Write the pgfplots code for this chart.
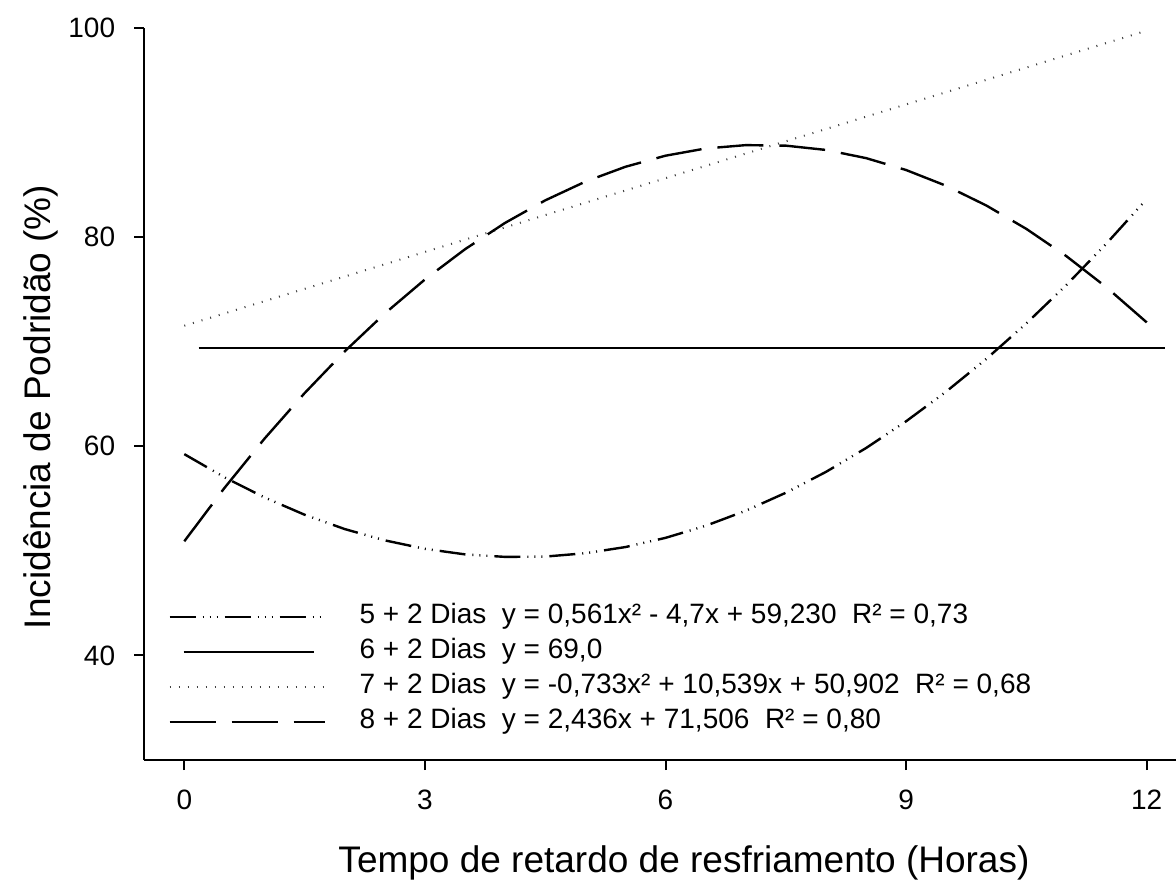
\documentclass[border=0pt]{standalone}
\usepackage{fontspec}
\setmainfont{Liberation Sans}
\usepackage{pgfplots}
\pgfplotsset{compat=1.18}

\pgfplotsset{
  dashdotdot/.style={black, line width=1.2pt,
    dash pattern=on 13pt off 3.5pt on 0.5pt off 3pt on 0.5pt off 3pt on 0.5pt off 3.5pt},
  plainline/.style={black, line width=1pt},
  dottedline/.style={black!75, line width=1pt, dash pattern=on 0.5pt off 4pt},
  longdash/.style={black, line width=1.2pt, dash pattern=on 23pt off 8pt},
  shortsample/.style={legend image code/.code={%
    \draw[##1] (7pt,0pt) -- (72pt,0pt);
    \path[draw=none] (0pt,0pt) -- (95pt,0pt);}},
}

\begin{document}
\begin{tikzpicture}
\useasboundingbox (-72.1pt,-59.5pt) rectangle (515.9pt,380pt);
\begin{axis}[
  at={(0pt,0pt)}, anchor=south west,
  scale only axis, width=517.3pt, height=366.25pt,
  xmin=-0.5, xmax=12.4, ymin=30, ymax=100,
  axis x line*=bottom, axis y line*=left,
  axis line style={line width=1pt, black},
  xtick={0,3,6,9,12}, ytick={40,60,80,100},
  minor tick num=0,
  tick align=outside, major tick length=5pt,
  tick style={line width=1pt, black},
  xticklabel style={font=\fontsize{14}{17}\selectfont, yshift=-6.5pt},
  yticklabel style={font=\fontsize{14}{17}\selectfont, xshift=-6pt},
  /pgf/number format/assume math mode=true,
  label style={font=\fontsize{18.5}{22}\selectfont},
  xlabel={Tempo de retardo de resfriamento (Horas)},
  ylabel={Incidência de Podridão (\%)},
  xlabel style={at={(axis description cs:0.5217,-0.1530)}, anchor=base},
  ylabel style={at={(axis description cs:-0.0909,0.482)}, anchor=base},
  legend cell align=left,
  legend style={at={(axis description cs:0.023,0.2198)}, anchor=north west,
    draw=none, fill=none, inner sep=0pt, row sep=0pt,
    font=\fontsize{14}{17}\selectfont,
    nodes={inner sep=0pt, text height=12pt, text depth=5.5pt}},
  legend image code/.code={%
    \draw[#1] (0pt,0pt) -- (77.5pt,0pt);
    \path[draw=none] (0pt,0pt) -- (95pt,0pt);},
]

% 5 + 2 dias
\addplot[dashdotdot] coordinates {
  (0,59.23) (0.5,57.02) (1,55.09) (1.5,53.44) (2,52.07) (2.5,50.99)
  (3,50.18) (3.5,49.65) (4,49.41) (4.5,49.44) (5,49.76) (5.5,50.35)
  (6,51.23) (6.5,52.38) (7,53.82) (7.5,55.54) (8,57.53) (8.5,59.81)
  (9,62.37) (9.5,65.21) (10,68.33) (10.5,71.73) (11,75.41) (11.5,79.37)
  (12,83.61)};
\addlegendentry{5 + 2 Dias\ \ y = 0,561x² - 4,7x + 59,230\ \ R² = 0,73}

% 6 + 2 dias
\addplot[plainline, shortsample] coordinates {(0.18,69.4) (12.23,69.4)};
\addlegendentry{6 + 2 Dias\ \ y = 69,0}

% 7 + 2 dias
\addplot[dottedline] coordinates {(0,71.5) (12,99.7)};
\addlegendentry{7 + 2 Dias\ \ y = -0,733x² + 10,539x + 50,902\ \ R² = 0,68}

% 8 + 2 dias
\addplot[longdash] coordinates {
  (0,50.90) (0.5,55.99) (1,60.71) (1.5,65.06) (2,69.05) (2.5,72.67)
  (3,75.92) (3.5,78.81) (4,81.33) (4.5,83.48) (5,85.27) (5.5,86.69)
  (6,87.75) (6.5,88.44) (7,88.76) (7.5,88.71) (8,88.30) (8.5,87.52)
  (9,86.38) (9.5,84.87) (10,82.99) (10.5,80.75) (11,78.14) (11.5,75.16)
  (12,71.82)};
\addlegendentry{8 + 2 Dias\ \ y = 2,436x + 71,506\ \ R² = 0,80}

\end{axis}
\end{tikzpicture}
\end{document}
